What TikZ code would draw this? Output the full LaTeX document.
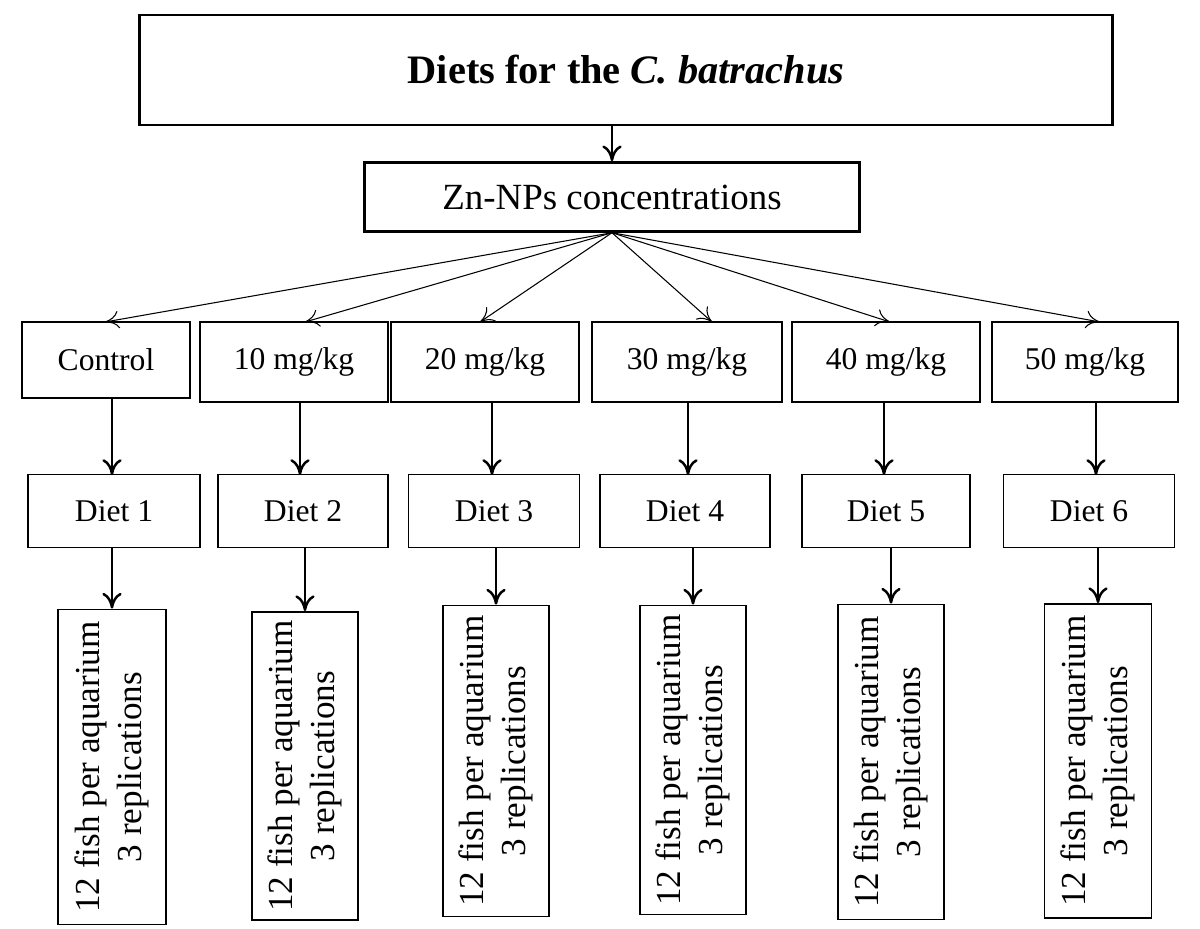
\documentclass[tikz,border=0pt]{standalone}
\usepackage{fontspec}
\setmainfont{Liberation Serif}
\usetikzlibrary{arrows.meta}

\tikzset{
  box/.style={draw, line width=1pt, inner sep=0pt},
  thin arrow/.style={-{To[length=8pt,width=10pt]}, line width=0.6pt},
  thick arrow/.style={-{To[length=9pt,width=11pt]}, line width=1.4pt},
}

\begin{document}
\begin{tikzpicture}[x=0.02cm, y=-0.02cm, font=\fontsize{18}{21}\selectfont]
        \useasboundingbox (0,0) rectangle (1200,929);
        % title boxes
        \node[box, line width=1.4pt, minimum width=973*0.02cm, minimum height=110*0.02cm, font=\fontsize{23}{27}\selectfont\bfseries] (diets) at (626,70) {Diets for the \textit{C. batrachus}};
        \node[box, line width=1.4pt, minimum width=495*0.02cm, minimum height=69*0.02cm, font=\fontsize{21}{25}\selectfont] (zn) at (612,197) {Zn-NPs concentrations};
        \draw[thick arrow] (612,125) -- (zn.north);
        % concentrations
        \node[box, minimum width=168*0.02cm, minimum height=76*0.02cm] (c0) at (106,360) {Control};
        \node[box, minimum width=188*0.02cm, minimum height=80*0.02cm] (c1) at (294,362) {10 mg/kg};
        \node[box, minimum width=188*0.02cm, minimum height=80*0.02cm] (c2) at (485,362) {20 mg/kg};
        \node[box, minimum width=190*0.02cm, minimum height=80*0.02cm] (c3) at (687,362) {30 mg/kg};
        \node[box, minimum width=188*0.02cm, minimum height=80*0.02cm] (c4) at (886,362) {40 mg/kg};
        \node[box, minimum width=186*0.02cm, minimum height=80*0.02cm] (c5) at (1085,362) {50 mg/kg};
        \draw[thin arrow] (zn.south) -- (105,322);
        \draw[thin arrow] (zn.south) -- (305,322);
        \draw[thin arrow] (zn.south) -- (480,322);
        \draw[thin arrow] (zn.south) -- (712,322);
        \draw[thin arrow] (zn.south) -- (890,322);
        \draw[thin arrow] (zn.south) -- (1100,322);
        % diets
        \node[box, minimum width=172*0.02cm, minimum height=73*0.02cm] (d1) at (114,511) {Diet 1};
        \node[box, minimum width=170*0.02cm, minimum height=73*0.02cm] (d2) at (303,511) {Diet 2};
        \node[box, minimum width=171*0.02cm, minimum height=73*0.02cm] (d3) at (494,511) {Diet 3};
        \node[box, minimum width=170*0.02cm, minimum height=73*0.02cm] (d4) at (685,511) {Diet 4};
        \node[box, minimum width=168*0.02cm, minimum height=73*0.02cm] (d5) at (886,511) {Diet 5};
        \node[box, minimum width=171*0.02cm, minimum height=73*0.02cm] (d6) at (1089,511) {Diet 6};
        \draw[thick arrow] (112,398) -- (112,475);
        \draw[thick arrow] (300,402) -- (300,475);
        \draw[thick arrow] (492,402) -- (492,475);
        \draw[thick arrow] (688,402) -- (688,475);
        \draw[thick arrow] (884,402) -- (884,475);
        \draw[thick arrow] (1096,402) -- (1096,475);
        % fish
        \node[box, minimum width=108*0.02cm, minimum height=315*0.02cm] (f1) at (112,767) {};
        \node[box, minimum width=106*0.02cm, minimum height=308*0.02cm] (f2) at (305,766) {};
        \node[box, minimum width=106*0.02cm, minimum height=311*0.02cm] (f3) at (496,761) {};
        \node[box, minimum width=106*0.02cm, minimum height=309*0.02cm] (f4) at (693,760) {};
        \node[box, minimum width=106*0.02cm, minimum height=315*0.02cm] (f5) at (891,762) {};
        \node[box, minimum width=107*0.02cm, minimum height=314*0.02cm] (f6) at (1098,761) {};
        \foreach \f in {f1,f2,f3,f4,f5,f6}
          \node[rotate=90, align=center, font=\fontsize{20}{24}\selectfont] at (\f) {12 fish per aquarium\\3 replications};
        \draw[thick arrow] (d1.south -| f1) -- (f1);
        \draw[thick arrow] (d2.south -| f2) -- (f2);
        \draw[thick arrow] (d3.south -| f3) -- (f3);
        \draw[thick arrow] (d4.south -| f4) -- (f4);
        \draw[thick arrow] (d5.south -| f5) -- (f5);
        \draw[thick arrow] (d6.south -| f6) -- (f6);
\end{tikzpicture}
\end{document}
